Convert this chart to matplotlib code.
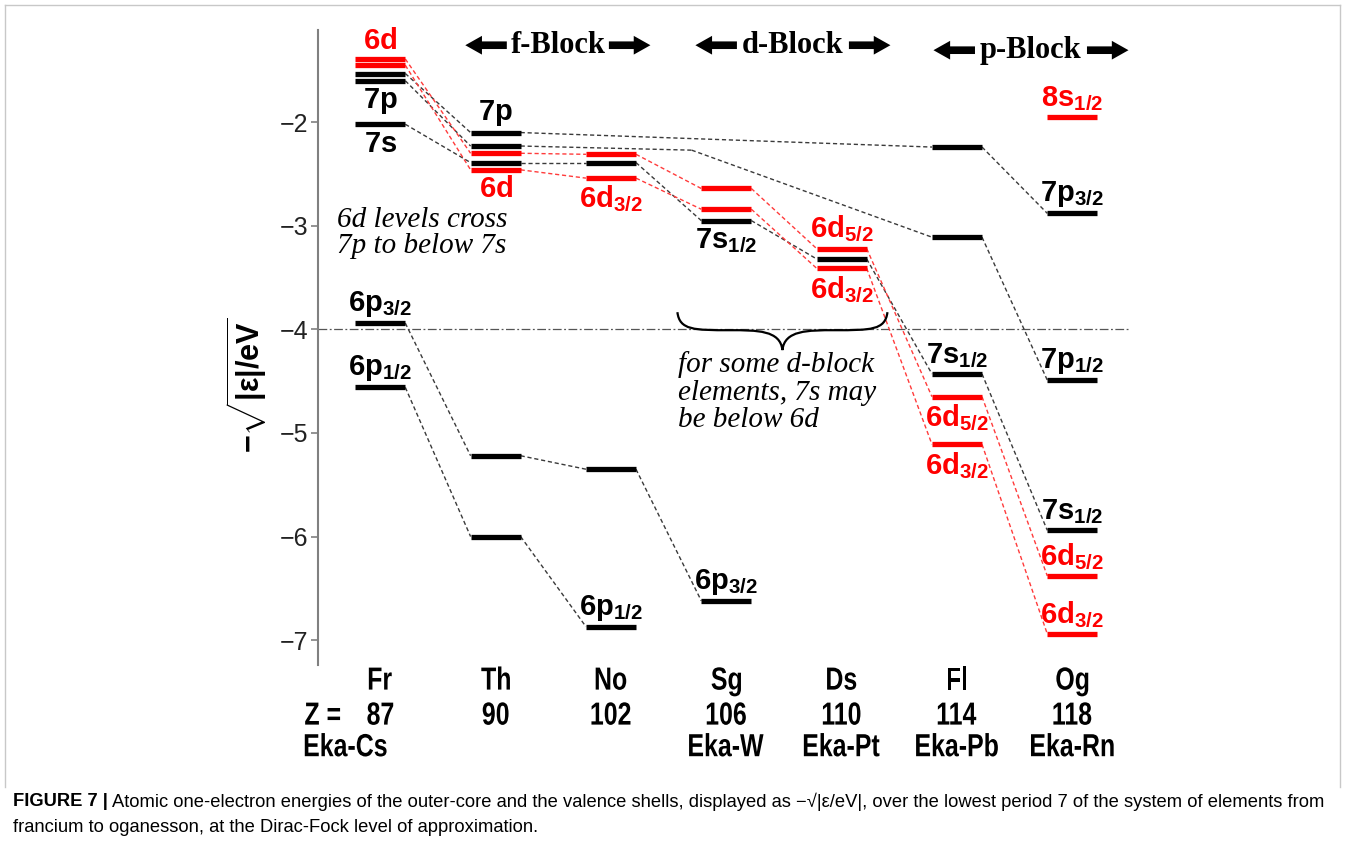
import matplotlib
matplotlib.use('Agg')
import matplotlib.pyplot as plt
import numpy as np
from matplotlib.path import Path
from matplotlib.patches import PathPatch, FancyArrowPatch
from matplotlib.lines import Line2D
from matplotlib.textpath import TextPath
from matplotlib.font_manager import FontProperties
from matplotlib.transforms import Affine2D, ScaledTranslation

plt.rcParams.update({
    'font.family': ['Liberation Sans', 'DejaVu Sans'],
    'mathtext.fontset': 'custom',
    'mathtext.rm': 'Liberation Sans',
    'mathtext.bf': 'Liberation Sans:bold',
    'mathtext.it': 'Liberation Sans:italic',
    'mathtext.sf': 'Liberation Sans',
})

RED = '#ff0000'; BLACK = '#000000'
DASH_K = '#3a3a3a'; DASH_R = '#ff3b3b'
nan = np.nan

# ---- data -------------------------------------------------------------
elements = ['Fr', 'Th', 'No', 'Sg', 'Ds', 'Fl', 'Og']
z_numbers = ['87', '90', '102', '106', '110', '114', '118']
eka_names = ['Eka-Cs', '', '', 'Eka-W', 'Eka-Pt', 'Eka-Pb', 'Eka-Rn']

# one-electron levels, -sqrt(|eps|/eV), per element column
e_6d52 = [-1.39, -2.30, -2.31, -2.64, -3.22, -4.65, -6.38]
e_6d32 = [-1.45, -2.46, -2.54, -2.84, -3.41, -5.11, -6.94]
e_7p32 = [-1.53, -2.10, nan, nan, nan, -2.24, -2.88]
e_7p12 = [-1.60, -2.23, nan, -2.27, nan, -3.11, -4.49]
e_7s12 = [-2.02, -2.39, -2.39, -2.95, -3.32, -4.43, -5.94]
e_6p32 = [-3.94, -5.22, -5.35, -6.62, nan, nan, nan]
e_6p12 = [-4.56, -6.00, -6.87, nan, nan, nan, nan]
e_8s12 = [nan, nan, nan, nan, nan, nan, -1.95]
# the 7p1/2 guide line only bends near Sg, no level drawn there
hidden_7p12 = [False, False, False, True, False, False, False]

tracks = [
    (e_7p32, BLACK, None),
    (e_7p12, BLACK, hidden_7p12),
    (e_7s12, BLACK, None),
    (e_6p32, BLACK, None),
    (e_6p12, BLACK, None),
    (e_6d52, RED, None),
    (e_6d32, RED, None),
    (e_8s12, RED, None),
]

# (column, level, text, side, colour)
level_labels = [
    (0, e_6d52[0], '6d', 'above', RED),
    (0, e_7p12[0], '7p', 'below', BLACK),
    (0, e_7s12[0], '7s', 'below', BLACK),
    (0, e_6p32[0], '6p_{3/2}', 'above', BLACK),
    (0, e_6p12[0], '6p_{1/2}', 'above', BLACK),
    (1, e_7p32[1], '7p', 'above', BLACK),
    (1, e_6d32[1], '6d', 'below', RED),
    (2, e_6d32[2], '6d_{3/2}', 'below', RED),
    (2, e_6p12[2], '6p_{1/2}', 'above', BLACK),
    (3, e_7s12[3], '7s_{1/2}', 'below', BLACK),
    (3, e_6p32[3], '6p_{3/2}', 'above', BLACK),
    (4, e_6d52[4], '6d_{5/2}', 'above', RED),
    (4, e_6d32[4], '6d_{3/2}', 'below', RED),
    (5, e_7s12[5], '7s_{1/2}', 'above', BLACK),
    (5, e_6d52[5], '6d_{5/2}', 'below', RED),
    (5, e_6d32[5], '6d_{3/2}', 'below', RED),
    (6, e_8s12[6], '8s_{1/2}', 'above', RED),
    (6, e_7p32[6], '7p_{3/2}', 'above', BLACK),
    (6, e_7p12[6], '7p_{1/2}', 'above', BLACK),
    (6, e_7s12[6], '7s_{1/2}', 'above', BLACK),
    (6, e_6d52[6], '6d_{5/2}', 'above', RED),
    (6, e_6d32[6], '6d_{3/2}', 'above', RED),
]

# ---- figure -----------------------------------------------------------
W, H = 1346, 843
fig = plt.figure(figsize=(W / 100, H / 100), dpi=100)
ax = fig.add_axes([318 / W, 1 - 665 / H, (1130 - 318) / W, (665 - 30) / H])
ax.set_xlim(-0.54, 6.5)
ax.set_ylim(-7.24, -1.11)

HW = 0.217  # half width of a level bar
cols = np.arange(len(elements))

for vals, col, hidden in tracks:
    dash_col = DASH_R if col == RED else DASH_K
    last = None
    for i, v in enumerate(vals):
        if np.isnan(v):
            continue
        if hidden is not None and hidden[i]:
            pt = (cols[i] - 0.3, v)
            if last is not None:
                ax.plot([last[0], pt[0]], [last[1], pt[1]], color=dash_col,
                        lw=1.0, ls=(0, (3, 2)), zorder=1)
            last = pt
            continue
        if last is not None:
            ax.plot([last[0], cols[i] - HW], [last[1], v], color=dash_col,
                    lw=1.0, ls=(0, (3, 2)), zorder=1)
        ax.hlines(v, cols[i] - HW, cols[i] + HW, color=col, lw=3.8, zorder=3)
        last = (cols[i] + HW, v)

for c, v, txt, side, colr in level_labels:
    dy = 3 if side == 'above' else -4
    ax.annotate(r'$\mathbf{' + txt + '}$', xy=(cols[c], v), xytext=(0, dy),
                textcoords='offset points', ha='center',
                va='bottom' if side == 'above' else 'top',
                fontsize=21, color=colr, zorder=4)

# reference line at -4
ax.axhline(-4, color='#555555', lw=0.9, ls=(0, (7, 2, 1.5, 2)), zorder=0)

# block headers
blocks = [('f-Block', 0.737, 2.342, -1.257),
          ('d-Block', 2.732, 4.423, -1.257),
          ('p-Block', 4.796, 6.487, -1.305)]
for name, x0, x1, yb in blocks:
    xc = (x0 + x1) / 2
    ax.text(xc, yb, name, ha='center', va='center', fontsize=22,
            family='Liberation Serif', fontweight='bold')
    for tip, base in ((x0, x0 + 0.36), (x1, x1 - 0.36)):
        ax.add_patch(FancyArrowPatch((base, yb), (tip, yb),
                     arrowstyle='simple,head_length=1.2,head_width=1.35,tail_width=0.55',
                     mutation_scale=10, color='k', lw=0, shrinkA=0, shrinkB=0))

# annotations
ax.text(0.36, -3.07, '6d levels cross\n7p to below 7s', ha='center', va='center',
        fontsize=21, family='Liberation Serif', style='italic', linespacing=1.0)
ax.text(2.58, -4.21, 'for some d-block\nelements, 7s may\nbe below 6d', ha='left',
        va='top', fontsize=21, family='Liberation Serif', style='italic',
        linespacing=1.07)

# curly brace
xl, xr = 2.576, 4.397
yt, ym, ytip = -3.834, -4.008, -4.20
wd = xr - xl
xc = (xl + xr) / 2
verts = [(xl, yt), (xl + 0.01 * wd, ym), (xl + 0.08 * wd, ym), (xl + 0.25 * wd, ym),
         (xc - 0.12 * wd, ym), (xc - 0.01 * wd, ym), (xc, ytip),
         (xc + 0.01 * wd, ym), (xc + 0.12 * wd, ym), (xr - 0.25 * wd, ym),
         (xr - 0.08 * wd, ym), (xr - 0.01 * wd, ym), (xr, yt)]
codes = [Path.MOVETO] + [Path.CURVE4] * 12
ax.add_patch(PathPatch(Path(verts, codes), fill=False, lw=1.6, color='k', zorder=4))

# axes styling
for s in ('top', 'right', 'bottom'):
    ax.spines[s].set_visible(False)
ax.spines['left'].set_color('#808080')
ax.spines['left'].set_linewidth(1.5)
ax.set_xticks([])
ax.set_yticks([-2, -3, -4, -5, -6, -7])
ax.tick_params(axis='y', colors='#808080', length=5, width=1.2, labelsize=18,
               labelcolor='#222222', pad=2)
ax.set_ylabel(r'$\mathbf{-\sqrt{|\varepsilon|/eV}}$', fontsize=22)
ax.yaxis.set_label_coords(-0.06, 0.44)

# element rows below the axis: bold, horizontally condensed
fp_bold = FontProperties(family='Liberation Sans', weight='bold')


def narrow_text(x, y, s, size=23, squeeze=0.78):
    px = size * 100 / 72
    tp = TextPath((0, 0), s, size=px, prop=fp_bold)
    ext = tp.get_extents()
    tr = (Affine2D().translate(-(ext.x0 + ext.x1) / 2, -0.358 * px).scale(squeeze, 1)
          + ScaledTranslation(x, y, ax.transData))
    ax.add_patch(PathPatch(tp, transform=tr, color='k', lw=0, clip_on=False))


for i, (el, zn, ek) in enumerate(zip(elements, z_numbers, eka_names)):
    narrow_text(cols[i], -7.367, el)
    narrow_text(cols[i], -7.705, zn)
    if ek:
        narrow_text(cols[i] + (-0.3 if i == 0 else 0.0), -8.01, ek)
narrow_text(-0.50, -7.705, 'Z =')

# frame around the figure panel
for xs, ys in (([5, 5], [5, 787]), ([5, 1340], [5, 5]), ([1340, 1340], [5, 787])):
    fig.add_artist(Line2D([x / W for x in xs], [1 - y / H for y in ys],
                          color='#c8c8c8', lw=1.0))

# caption
cap_kw = dict(fontsize=13.25, family=['Liberation Sans', 'DejaVu Sans'], va='center')
tb = fig.text(13 / W, 1 - 802 / H, 'FIGURE 7 |', fontweight='bold', **cap_kw)
fig.canvas.draw()
bb = tb.get_window_extent(fig.canvas.get_renderer())
fig.text(bb.x1 / W + 4 / W, 1 - 802 / H,
         'Atomic one-electron energies of the outer-core and the valence shells, '
         'displayed as \u2212\u221a|\u03b5/eV|, over the lowest period 7 of the system '
         'of elements from', **cap_kw)
fig.text(13 / W, 1 - 828 / H,
         'francium to oganesson, at the Dirac-Fock level of approximation.', **cap_kw)

fig.savefig('out.png', dpi=100)
